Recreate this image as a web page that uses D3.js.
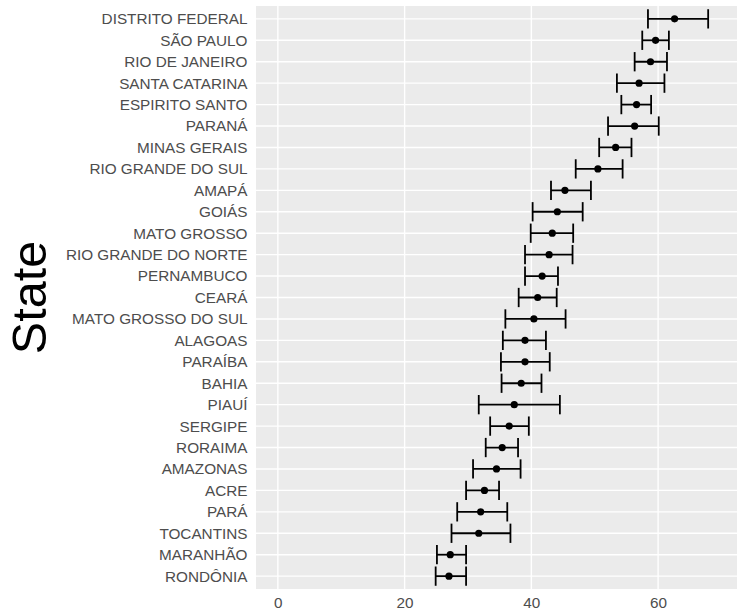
<!DOCTYPE html>
<html>
<head>
<meta charset="utf-8">
<script src="https://cdn.jsdelivr.net/npm/d3@7"></script>
<style>
  body { margin: 0; background: #fff; }
  svg { display: block; font-family: Arial, "Liberation Sans", sans-serif; }
</style>
</head>
<body>
<svg id="chart" width="737" height="613"></svg>
<script>
// States, top to bottom
const states = [
    "DISTRITO FEDERAL", "SÃO PAULO", "RIO DE JANEIRO", "SANTA CATARINA",
    "ESPIRITO SANTO", "PARANÁ", "MINAS GERAIS", "RIO GRANDE DO SUL",
    "AMAPÁ", "GOIÁS", "MATO GROSSO", "RIO GRANDE DO NORTE",
    "PERNAMBUCO", "CEARÁ", "MATO GROSSO DO SUL", "ALAGOAS",
    "PARAÍBA", "BAHIA", "PIAUÍ", "SERGIPE",
    "RORAIMA", "AMAZONAS", "ACRE", "PARÁ",
    "TOCANTINS", "MARANHÃO", "RONDÔNIA"
];

const means = [
    62.6, 59.6, 58.8, 57.0, 56.6, 56.3, 53.3, 50.5, 45.3,
    44.1, 43.3, 42.8, 41.7, 41.0, 40.4, 39.0, 39.0, 38.4,
    37.3, 36.5, 35.4, 34.5, 32.6, 32.0, 31.7, 27.2, 27.0
];

const lower = [
    58.4, 57.5, 56.3, 53.5, 54.2, 52.1, 50.7, 47.0, 43.1,
    40.2, 39.9, 39.0, 39.0, 38.0, 35.9, 35.5, 35.2, 35.3,
    31.7, 33.5, 32.8, 30.8, 29.7, 28.3, 27.4, 25.1, 24.9
];

const upper = [
    67.9, 61.7, 61.4, 61.0, 58.9, 60.1, 55.8, 54.4, 49.4,
    48.1, 46.6, 46.5, 44.2, 44.0, 45.4, 42.3, 42.9, 41.6,
    44.5, 39.6, 37.9, 38.3, 34.9, 36.2, 36.7, 29.7, 29.7
];

const xTicks = [0, 20, 40, 60];
const xLimits = [0, 69];

const data = states.map((s, i) => ({ state: s, mean: means[i], lo: lower[i], hi: upper[i] }));

// panel geometry
const panel = { left: 256, right: 737, top: 6, bottom: 589 };

const svg = d3.select("#chart");

// ggplot-like 5% expansion
const span = xLimits[1] - xLimits[0];
const x = d3.scaleLinear()
    .domain([xLimits[0] - span * 0.05, xLimits[1] + span * 0.05])
    .range([panel.left, panel.right]);

const y = d3.scalePoint()
    .domain(states)
    .range([panel.top, panel.bottom])
    .padding(0.6);

// panel background
svg.append("rect")
    .attr("x", panel.left)
    .attr("y", panel.top)
    .attr("width", panel.right - panel.left)
    .attr("height", panel.bottom - panel.top)
    .attr("fill", "#ebebeb");

// gridlines
svg.append("g")
    .selectAll("line")
    .data(xTicks)
    .enter().append("line")
    .attr("x1", d => x(d))
    .attr("x2", d => x(d))
    .attr("y1", panel.top)
    .attr("y2", panel.bottom)
    .attr("stroke", "#fff")
    .attr("stroke-width", 1.4);

svg.append("g")
    .selectAll("line")
    .data(states)
    .enter().append("line")
    .attr("x1", panel.left)
    .attr("x2", panel.right)
    .attr("y1", d => y(d))
    .attr("y2", d => y(d))
    .attr("stroke", "#fff")
    .attr("stroke-width", 1.4);

// axes
const xAxis = svg.append("g")
    .attr("transform", `translate(0,${panel.bottom})`)
    .call(d3.axisBottom(x).tickValues(xTicks).tickSize(0).tickPadding(8));
xAxis.select(".domain").remove();
xAxis.selectAll("text")
    .style("font-size", "15.3px")
    .attr("fill", "#4d4d4d");

const yAxis = svg.append("g")
    .attr("transform", `translate(${panel.left},0)`)
    .call(d3.axisLeft(y).tickSize(0).tickPadding(8.5));
yAxis.select(".domain").remove();
yAxis.selectAll("text")
    .style("font-size", "15.3px")
    .attr("fill", "#4d4d4d");

// y title
svg.append("text")
    .attr("transform", `translate(46,${(panel.top + panel.bottom) / 2}) rotate(-90)`)
    .attr("text-anchor", "middle")
    .style("font-size", "48.5px")
    .attr("fill", "#000")
    .text("State");

// error bars
const capHalf = y.step() * 0.45;
const bars = svg.append("g")
    .selectAll("g")
    .data(data)
    .enter().append("g")
    .attr("stroke", "#000")
    .attr("stroke-width", 1.8);

bars.append("line")
    .attr("x1", d => x(d.lo))
    .attr("x2", d => x(d.hi))
    .attr("y1", d => y(d.state))
    .attr("y2", d => y(d.state));

bars.append("line")
    .attr("x1", d => x(d.lo))
    .attr("x2", d => x(d.lo))
    .attr("y1", d => y(d.state) - capHalf)
    .attr("y2", d => y(d.state) + capHalf);

bars.append("line")
    .attr("x1", d => x(d.hi))
    .attr("x2", d => x(d.hi))
    .attr("y1", d => y(d.state) - capHalf)
    .attr("y2", d => y(d.state) + capHalf);

// points
svg.append("g")
    .selectAll("circle")
    .data(data)
    .enter().append("circle")
    .attr("cx", d => x(d.mean))
    .attr("cy", d => y(d.state))
    .attr("r", 3.6)
    .attr("fill", "#000");
</script>
</body>
</html>
